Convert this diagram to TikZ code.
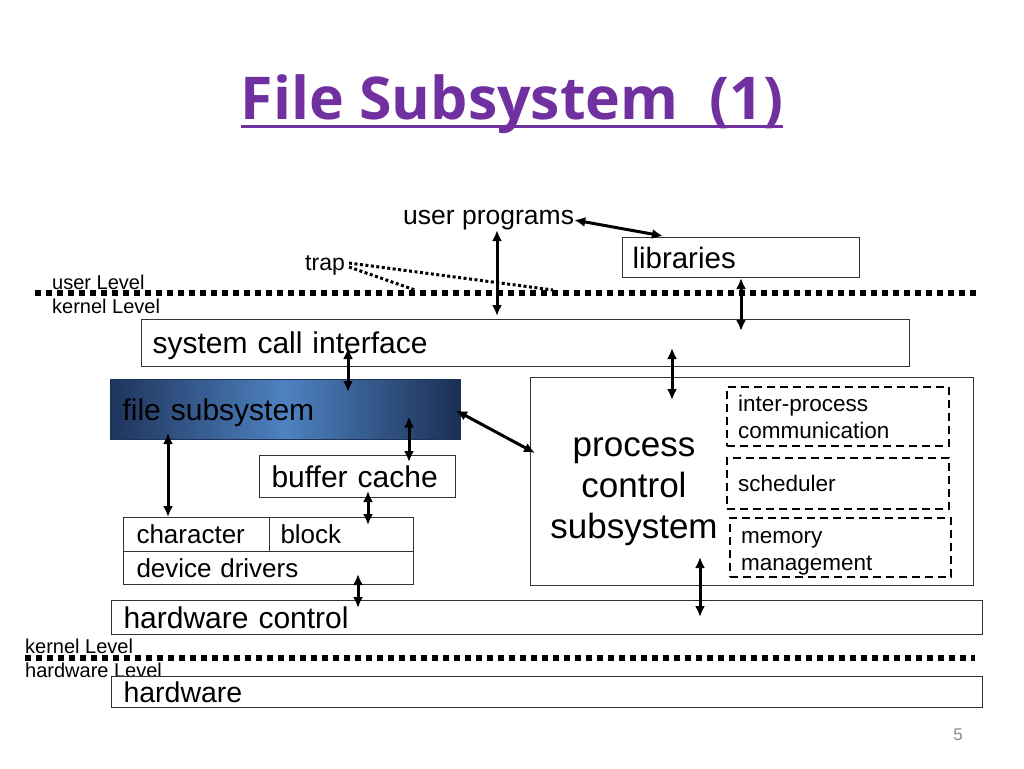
\documentclass[tikz,border=0pt]{standalone}
\usepackage{fontspec}
\setmainfont{Liberation Sans}
\newfontfamily\titlefont{Open Sans}
\usetikzlibrary{calc, arrows.meta}

\definecolor{titlepurple}{RGB}{112,48,160}
\definecolor{fsdark}{RGB}{30,52,92}
\definecolor{fsmid}{RGB}{78,130,192}

\begin{document}
\begin{tikzpicture}[x=1pt, y=-1pt,
	box/.style={draw=black!80, line width=1pt, anchor=north west, inner ysep=0pt, align=left, text depth=0pt},
	subbox/.style={draw=black, line width=2pt, dash pattern=on 8pt off 5pt, anchor=north west, inner xsep=11pt, inner ysep=0pt, align=left, font=\fontsize{22.5}{27}\selectfont},
	biarrow/.style={<->, line width=3pt, >={Latex[length=11pt, width=10pt]}},
	levelsep/.style={line width=6pt, dash pattern=on 6pt off 5pt},
	trapline/.style={line width=3pt, dash pattern=on 3pt off 2.5pt},
	lvl/.style={anchor=west, inner sep=0pt, font=\fontsize{20}{21}\selectfont}]

	\fill [white] (0,0) rectangle (1024,768);
	\useasboundingbox (0,0) rectangle (1024,768);

	\node [anchor=base, inner sep=0pt, text=titlepurple, font=\titlefont\bfseries\fontsize{59}{66}\selectfont] (title) at (512,119) {File Subsystem\ \ (1)};
	\draw [titlepurple, line width=3pt] ($(title.base west)+(0,7)$) -- ($(title.base east)+(0,7)$);

	\node [anchor=west, inner sep=0pt, font=\fontsize{26.5}{28}\selectfont] (userprog) at (403,220) {user programs};
	\node [box, text width=217pt, inner xsep=10pt, minimum height=40pt, font=\fontsize{29.5}{32}\selectfont] (libs) at (622,237) {libraries};
	\node [anchor=west, inner sep=0pt, font=\fontsize{23}{24}\selectfont] (trap) at (305,265) {trap};

	\draw [levelsep] (35,293) -- (980,293);
	\node [lvl] (userlvl) at (52,282) {user Level};
	\node [lvl] (kernlvl) at (52,306) {kernel Level};

	\node [box, text width=746pt, inner xsep=11pt, minimum height=47pt, font=\fontsize{30}{32}\selectfont] (sci) at (141,319) {system call interface};

	\node [box, draw=fsdark, left color=fsdark, right color=fsdark!90!black, middle color=fsmid, text width=326pt, inner xsep=12pt, minimum height=60pt, font=\fontsize{30}{32}\selectfont] (fs) at (110,379) {file subsystem};
	\node [box, text width=172pt, inner xsep=12pt, minimum height=42pt, font=\fontsize{30}{32}\selectfont] (bc) at (259,455) {buffer cache};
	\node [box, text width=120pt, inner xsep=13pt, minimum height=34pt, font=\fontsize{26}{28}\selectfont] (chr) at (123,517) {character};
	\node [box, text width=122pt, inner xsep=11pt, minimum height=34pt, font=\fontsize{26}{28}\selectfont] (blk) at (269,517) {block};
	\node [box, text width=264pt, inner xsep=13pt, minimum height=33pt, font=\fontsize{26}{28}\selectfont] (dd) at (123,551) {device drivers};

	\node [box, minimum width=443pt, minimum height=208pt] (pcs) at (530,377) {};
	\node [align=center, inner sep=0pt, font=\fontsize{35}{41}\selectfont] (pcslbl) at (634,492) {process\\control\\subsystem};
	\node [subbox, text width=200pt, minimum height=59pt] (ipc) at (726,386) {inter-process\\communication};
	\node [subbox, text width=200pt, minimum height=51pt] (sched) at (726,457) {scheduler};
	\node [subbox, text width=199pt, minimum height=59pt, text depth=20pt] (mem) at (729,517) {memory\\management};

	\node [box, text width=847pt, inner xsep=12pt, minimum height=34pt, font=\fontsize{30}{32}\selectfont] (hwc) at (111,600) {hardware control};

	\draw [levelsep] (25,658) -- (975,658);
	\node [lvl] (kernlvl2) at (25,646) {kernel Level};
	\node [lvl] (hwlvl) at (25,670) {hardware Level};

	\node [box, text width=847pt, inner xsep=12pt, minimum height=31pt, font=\fontsize{28.5}{30}\selectfont] (hw) at (111,676) {hardware};

	\node [text=black!45, inner sep=0pt, font=\fontsize{17}{20}\selectfont] (pagenum) at (958,735) {5};

	\coordinate (trapA) at (553,290);
	\coordinate (trapB) at (415,290);
	\draw [trapline] ($(trap.east)+(4,-2)$) -- (trapA);
	\draw [trapline] ($(trap.east)+(4,2)$) -- (trapB);

	\draw [biarrow] (userprog.east) -- ($(libs.north west)+(41,-1)$);
	\draw [biarrow] (497,0 |- userprog.south) -- ($(497,0 |- sci.north)+(0,-3)$);
	\draw [biarrow] (741,0 |- libs.south) -- ($(741,0 |- sci.north)+(0,12)$);
	\draw [biarrow] ($(348,0 |- sci.center)+(0,5)$) -- ($(348,0 |- fs.north)+(0,13)$);
	\draw [biarrow] ($(672,0 |- sci.center)+(0,5)$) -- ($(672,0 |- pcs.north)+(0,23)$);
	\draw [biarrow] ($(fs.east)+(-5,1)$) -- ($(pcs.west |- 0,453)+(5,0)$);
	\draw [biarrow] ($(409,0 |- fs.center)+(0,7)$) -- ($(409,0 |- bc.north)+(0,7)$);
	\draw [biarrow] ($(368,0 |- bc.south)+(0,-7)$) -- ($(368,0 |- blk.north)+(0,8)$);
	\draw [biarrow] ($(168,0 |- fs.south)+(0,-7)$) -- (168,0 |- chr.north);
	\draw [biarrow] ($(358,0 |- dd.south)+(0,-11)$) -- ($(358,0 |- hwc.north)+(0,8)$);
	\draw [biarrow] ($(700,0 |- pcs.south)+(0,-29)$) -- ($(700,0 |- hwc.north)+(0,17)$);
\end{tikzpicture}
\end{document}
